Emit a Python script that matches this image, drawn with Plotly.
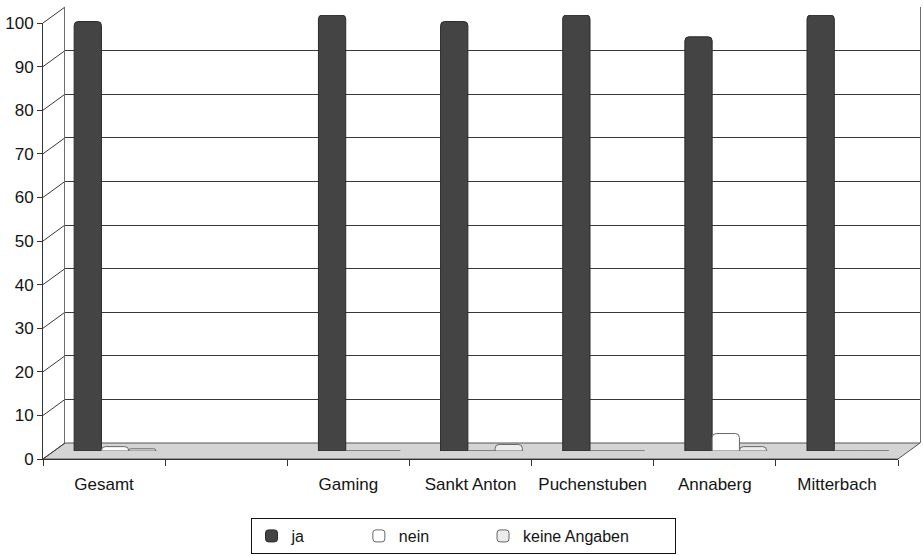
import plotly.graph_objects as go

# --- data -------------------------------------------------------------
categories = ["Gesamt", "", "Gaming", "Sankt Anton", "Puchenstuben", "Annaberg", "Mitterbach"]
ja = [98.5, None, 100, 98.5, 100, 95.0, 100]
nein = [1.0, None, 0, 0, 0, 4.0, 0]
keine_angaben = [0.5, None, 0, 1.5, 0, 1.0, 0]
y_ticks = list(range(0, 101, 10))

# --- geometry (pixel frame of the pseudo-3D box) ----------------------
W, H = 923, 556
FRONT = dict(x0=43, x1=898, y0=459, y1=23)   # front plane: axes with labels
DX, DY = 22, -16                              # depth offset to the back wall


def px(x):
    return x / W


def py(y):
    return 1 - y / H


def plane(k):
    """Plane at depth fraction k (0 = front, 1 = back wall)."""
    return dict(x0=FRONT["x0"] + k * DX, x1=FRONT["x1"] + k * DX,
                y0=FRONT["y0"] + k * DY, y1=FRONT["y1"] + k * DY)


back, mid, front = plane(1.0), plane(0.5), plane(0.0)
x_range = [-0.5, len(categories) - 0.5]
xs = list(range(len(categories)))

FONT = "Liberation Sans, Arial, sans-serif"
INK = "#141414"
PAD = "\u00a0"  # fixed-width spacing between legend entries

fig = go.Figure()

# anchor traces so the back-wall and front-axis subplots exist
fig.add_trace(go.Scatter(x=[0], y=[0], xaxis="x", yaxis="y", mode="markers",
                         marker=dict(opacity=0), showlegend=False, hoverinfo="skip"))
fig.add_trace(go.Scatter(x=[0], y=[0], xaxis="x3", yaxis="y3", mode="markers",
                         marker=dict(opacity=0), showlegend=False, hoverinfo="skip"))

series = [
    ("ja", ja, "#444444", "#2a2a2a", 11),
    ("nein", nein, "#ffffff", "#666666", 11),
    ("keine Angaben", keine_angaben, "#ececec", "#666666", 9),
]
for name, vals, fill, edge, pad in series:
    fig.add_trace(go.Bar(
        x=xs, y=vals, name=name + PAD * pad, xaxis="x2", yaxis="y2",
        hovertemplate=name + ": %{y}<extra></extra>",
        marker=dict(color=fill, line=dict(color=edge, width=1), cornerradius=4),
    ))


def domain_x(p):
    return [px(p["x0"]), px(p["x1"])]


def domain_y(p):
    return [py(p["y0"]), py(p["y1"])]


hidden = dict(showticklabels=False, ticks="", showgrid=False, zeroline=False)

fig.update_layout(
    # back wall with horizontal gridlines
    xaxis=dict(domain=domain_x(back), range=x_range, anchor="y", showline=False, **hidden),
    yaxis=dict(domain=domain_y(back), range=[0, 100], anchor="x",
               showticklabels=False, ticks="", zeroline=False,
               showgrid=True, gridcolor="#383838", gridwidth=1, tickvals=y_ticks,
               showline=True, linecolor="#6e6e6e", linewidth=1, mirror=True),
    # mid-depth plane carrying the columns
    xaxis2=dict(domain=domain_x(mid), range=x_range, anchor="y2", showline=False, **hidden),
    yaxis2=dict(domain=domain_y(mid), range=[0, 100], anchor="x2", showline=False, **hidden),
    # front plane with visible axes and labels
    xaxis3=dict(domain=domain_x(front), range=x_range, anchor="y3",
                tickmode="array",
                tickvals=[i for i, c in enumerate(categories) if c],
                ticktext=[c for c in categories if c],
                ticks="", showgrid=False, zeroline=False,
                showline=True, linecolor="#333333", linewidth=1,
                ticklabelstandoff=10,
                minor=dict(tickmode="linear", tick0=-0.5, dtick=1, ticks="outside",
                           ticklen=6, tickcolor="#333333", tickwidth=1, showgrid=False),
                tickfont=dict(family=FONT, size=17, color=INK)),
    yaxis3=dict(domain=domain_y(front), range=[0, 100], anchor="x3",
                tickmode="array", tickvals=y_ticks,
                ticks="outside", ticklen=5, tickcolor="#333333",
                showgrid=False, zeroline=False,
                showline=True, linecolor="#333333", linewidth=1,
                tickfont=dict(family=FONT, size=17, color=INK)),
)

# floor of the box and side-wall connectors
shapes = []
floor = (f"M {px(front['x0'])},{py(front['y0'])} L {px(front['x1'])},{py(front['y0'])} "
         f"L {px(back['x1'])},{py(back['y0'])} L {px(back['x0'])},{py(back['y0'])} Z")
shapes.append(dict(type="path", path=floor, xref="paper", yref="paper",
                   fillcolor="#d4d4d4", line=dict(color="#555555", width=1), layer="below"))


def y_at(p, v):
    return p["y0"] + (p["y1"] - p["y0"]) * v / 100


for v in y_ticks:
    shapes.append(dict(type="line", xref="paper", yref="paper",
                       x0=px(front["x0"]), y0=py(y_at(front, v)),
                       x1=px(back["x0"]), y1=py(y_at(back, v)),
                       line=dict(color="#383838", width=1), layer="below"))

fig.update_layout(
    shapes=shapes,
    width=W, height=H,
    margin=dict(l=0, r=0, t=0, b=0, autoexpand=False),
    paper_bgcolor="white",
    plot_bgcolor="rgba(0,0,0,0)",
    barmode="group",
    bargap=0.33,
    bargroupgap=0.0,
    font=dict(family=FONT, size=16, color=INK),
    showlegend=True,
    legend=dict(orientation="h", x=px(463), xanchor="center", y=py(518), yanchor="top",
                bordercolor="#111111", borderwidth=1, bgcolor="white",
                font=dict(family=FONT, size=16, color=INK),
                itemwidth=30, traceorder="normal"),
)

fig.write_html("out.html")
